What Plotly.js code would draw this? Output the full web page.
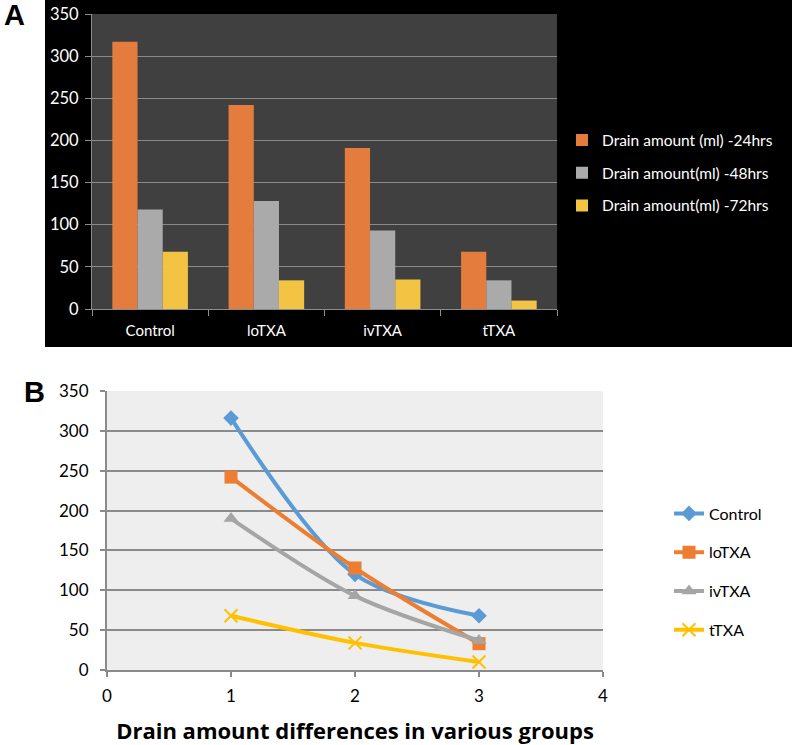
<!DOCTYPE html>
<html><head><meta charset="utf-8">
<script src="https://cdn.plot.ly/plotly-3.0.1.min.js"></script>
<style>html,body{margin:0;padding:0;background:#fff}#chart{width:792px;height:745px}</style>
</head><body><div id="chart"></div>
<script>
const groups = ["Control", "loTXA", "ivTXA", "tTXA"];
const barSeriesNames = ["Drain amount (ml) -24hrs", "Drain amount(ml) -48hrs", "Drain amount(ml) -72hrs"];
const drain24 = [317, 242, 191, 68];
const drain48 = [118, 128, 93, 34];
const drain72 = [68, 34, 35, 10];

const timePoints = [1, 2, 3];
const controlLine = [316, 120, 68];
const loTXALine = [242, 128, 33];
const ivTXALine = [190, 93, 37];
const tTXALine = [68, 34, 10];
const xTitleB = "Drain amount differences in various groups";

const W = 792, H = 745;
const px = v => v / W, py = v => 1 - v / H;

const barColors = ["#e47c3d", "#aaaaaa", "#f3c443"];
const barData = [drain24, drain48, drain72];
const traces = [];
barData.forEach((vals, i) => {
  traces.push({
    type: "bar", x: groups, y: vals, name: barSeriesNames[i],
    marker: {color: barColors[i]}, xaxis: "x", yaxis: "y",
    legend: "legend", legendgroup: "a" + i, hoverinfo: "y"
  });
});

const lineSeries = [
  {name: "Control", y: controlLine, color: "#5b9bd5", symbol: "diamond", size: 12},
  {name: "loTXA", y: loTXALine, color: "#ed7d31", symbol: "square", size: 13},
  {name: "ivTXA", y: ivTXALine, color: "#a5a5a5", symbol: "triangle-up", size: 13},
  {name: "tTXA", y: tTXALine, color: "#ffc000", symbol: "x-thin", size: 13}
];
lineSeries.forEach((s, i) => {
  traces.push({
    type: "scatter", mode: "lines+markers", x: timePoints, y: s.y, name: s.name,
    line: {color: s.color, width: 4, shape: "spline", smoothing: 0.9},
    marker: {color: s.color, symbol: s.symbol, size: s.size, line: {color: s.color, width: s.symbol === "x-thin" ? 2 : 0}},
    xaxis: "x2", yaxis: "y2", legend: "legend2", legendgroup: "b" + i
  });
});

const layout = {
  width: W, height: H,
  margin: {l: 0, r: 0, t: 0, b: 0},
  paper_bgcolor: "#ffffff",
  plot_bgcolor: "rgba(0,0,0,0)",
  font: {family: "Lato, 'Open Sans', sans-serif", size: 14, color: "#000"},
  barmode: "group", bargap: 0.35, bargroupgap: 0,
  showlegend: true,
  xaxis: {
    domain: [px(92), px(557)], anchor: "y",
    type: "category", categoryarray: groups,
    showgrid: false, showline: true, linecolor: "#8c8c8c", linewidth: 1,
    ticks: "outside", tickson: "boundaries", ticklen: 6, tickcolor: "#8c8c8c",
    ticklabelstandoff: 8,
    tickfont: {color: "#ffffff", size: 15, family: "Lato, sans-serif"},
    fixedrange: true
  },
  yaxis: {
    domain: [py(309), py(14)], anchor: "x",
    range: [0, 350], tickvals: [0, 50, 100, 150, 200, 250, 300, 350],
    showgrid: true, gridcolor: "#8a8a8a", gridwidth: 1, zeroline: false,
    showline: true, linecolor: "#8c8c8c", linewidth: 1,
    ticks: "outside", ticklen: 6, tickcolor: "#8c8c8c",
    ticklabelstandoff: 3,
    tickfont: {color: "#ffffff", size: 16.5, family: "Lato, sans-serif"},
    fixedrange: true
  },
  xaxis2: {
    domain: [px(107), px(603)], anchor: "y2",
    range: [0, 4], tickvals: [0, 1, 2, 3, 4],
    showgrid: false, zeroline: false, showline: true, linecolor: "#8a8a8a", linewidth: 2,
    ticks: "outside", ticklen: 5, tickcolor: "#8a8a8a", tickwidth: 2,
    ticklabelstandoff: 5,
    tickfont: {color: "#000", size: 17, family: "Lato, sans-serif"},
    title: {text: xTitleB, font: {size: 22, family: "'Open Sans', sans-serif", weight: "bold", color: "#000"}, standoff: 21},
    fixedrange: true
  },
  yaxis2: {
    domain: [py(670), py(391)], anchor: "x2",
    range: [0, 350], tickvals: [0, 50, 100, 150, 200, 250, 300, 350],
    showgrid: true, gridcolor: "#8a8a8a", gridwidth: 2, zeroline: false,
    showline: true, linecolor: "#8a8a8a", linewidth: 2,
    ticks: "outside", ticklen: 5, tickcolor: "#8a8a8a", tickwidth: 2,
    ticklabelstandoff: 8,
    tickfont: {color: "#000", size: 17, family: "Lato, sans-serif"},
    fixedrange: true
  },
  legend: {
    x: px(562), xanchor: "left", y: py(173), yanchor: "middle",
    bgcolor: "rgba(0,0,0,0)", font: {color: "#ffffff", size: 15.5, family: "Lato, sans-serif"},
    tracegroupgap: 9.5, traceorder: "grouped"
  },
  legend2: {
    x: px(669), xanchor: "left", y: py(572), yanchor: "middle",
    bgcolor: "rgba(0,0,0,0)", font: {color: "#000", size: 16, family: "Lato, sans-serif"},
    tracegroupgap: 15, traceorder: "grouped", itemwidth: 30
  },
  shapes: [
    {type: "rect", xref: "paper", yref: "paper", x0: px(45), x1: 1, y0: py(347), y1: 1,
     fillcolor: "#000000", line: {width: 0}, layer: "below"},
    {type: "rect", xref: "x domain", yref: "y domain", x0: 0, x1: 1, y0: 0, y1: 1,
     fillcolor: "#404040", line: {width: 0}, layer: "below"},
    {type: "rect", xref: "x2 domain", yref: "y2 domain", x0: 0, x1: 1, y0: 0, y1: 1,
     fillcolor: "#eeeeee", line: {width: 0}, layer: "below"}
  ],
  annotations: [
    {text: "<b>A</b>", xref: "paper", yref: "paper", x: px(14), y: py(15), xanchor: "center", yanchor: "middle",
     showarrow: false, font: {family: "'Liberation Sans', Arial, sans-serif", size: 29, color: "#000"}},
    {text: "<b>B</b>", xref: "paper", yref: "paper", x: px(34), y: py(392), xanchor: "center", yanchor: "middle",
     showarrow: false, font: {family: "'Liberation Sans', Arial, sans-serif", size: 29, color: "#000"}}
  ]
};

Plotly.newPlot("chart", traces, layout, {displayModeBar: false, staticPlot: true});
</script></body></html>
